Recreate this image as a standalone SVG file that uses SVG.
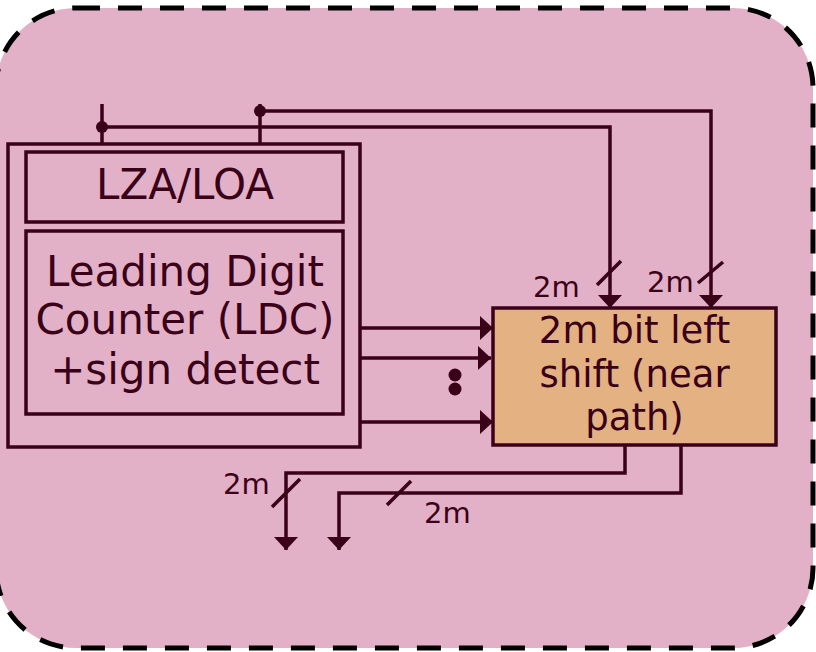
<svg xmlns="http://www.w3.org/2000/svg" width="816" height="652" viewBox="0 0 816 652">
<defs>
<style>
.bg{fill:#E3B1C7;stroke:#000;stroke-width:5;stroke-dasharray:24 18}
.box{fill:none;stroke:#3A0018;stroke-width:3.5}
.sh{fill:#E3B182;stroke:#3A0018;stroke-width:3.5}
.w{fill:none;stroke:#3A0018;stroke-width:3.5}
.dot{fill:#3A0018}
.t{font-family:"DejaVu Sans",Verdana,sans-serif;fill:#3A0018;text-anchor:middle}
.big{font-size:42px}
.mid{font-size:37px}
.lab{font-family:"DejaVu Sans",Verdana,sans-serif;fill:#3A0018;font-size:29px}
</style>
<marker id="ah" viewBox="0 0 13 24" refX="13" refY="12" markerWidth="13" markerHeight="24" orient="auto" markerUnits="userSpaceOnUse">
<path d="M0,0 L13,12 L0,24 z" fill="#3A0018"/>
</marker>
</defs>
<rect class="bg" x="-4" y="8" width="817" height="640" rx="80" ry="80"/>
<g id="ldc-block">
<rect class="box" x="8" y="144" width="352" height="303"/>
<g id="lza">
<rect class="box" x="26" y="152" width="317" height="70"/>
<text class="t big" x="185" y="199">LZA/LOA</text>
</g>
<g id="ldc">
<rect class="box" x="26" y="231" width="317" height="183"/>
<text class="t big" x="185" y="286">Leading Digit</text>
<text class="t big" x="185" y="334">Counter (LDC)</text>
<text class="t big" x="185" y="384">+sign detect</text>
</g>
</g>
<g id="shifter">
<rect class="sh" x="493" y="308" width="283" height="137"/>
<text class="t mid" x="634.5" y="343">2m bit left</text>
<text class="t mid" x="634.5" y="387">shift (near</text>
<text class="t mid" x="634.5" y="430">path)</text>
</g>
<g id="connectors">
<path class="w" d="M102,104 V144"/>
<path class="w" d="M260,104 V144"/>
<path class="w" d="M102,127 H610 V308" marker-end="url(#ah)"/>
<path class="w" d="M260,111 H711 V308" marker-end="url(#ah)"/>
<circle class="dot" cx="102" cy="127" r="6"/>
<circle class="dot" cx="260" cy="111" r="6"/>
<path class="w" d="M360,328 H493" marker-end="url(#ah)"/>
<path class="w" d="M360,358 H491" marker-end="url(#ah)"/>
<path class="w" d="M360,422 H493" marker-end="url(#ah)"/>
<circle class="dot" cx="455" cy="375" r="6.5"/>
<circle class="dot" cx="455" cy="389" r="6.5"/>
<path class="w" d="M625,445 V473 H286 V550" marker-end="url(#ah)"/>
<path class="w" d="M681,445 V493 H339 V550" marker-end="url(#ah)"/>
<path class="w" d="M597,285 L621,261"/>
<path class="w" d="M698,283 L723,262"/>
<path class="w" d="M272,507 L300,479"/>
<path class="w" d="M387,505 L411,481"/>
<text class="lab" x="533" y="297">2m</text>
<text class="lab" x="647" y="292">2m</text>
<text class="lab" x="223" y="494">2m</text>
<text class="lab" x="424" y="523">2m</text>
</g>
</svg>
